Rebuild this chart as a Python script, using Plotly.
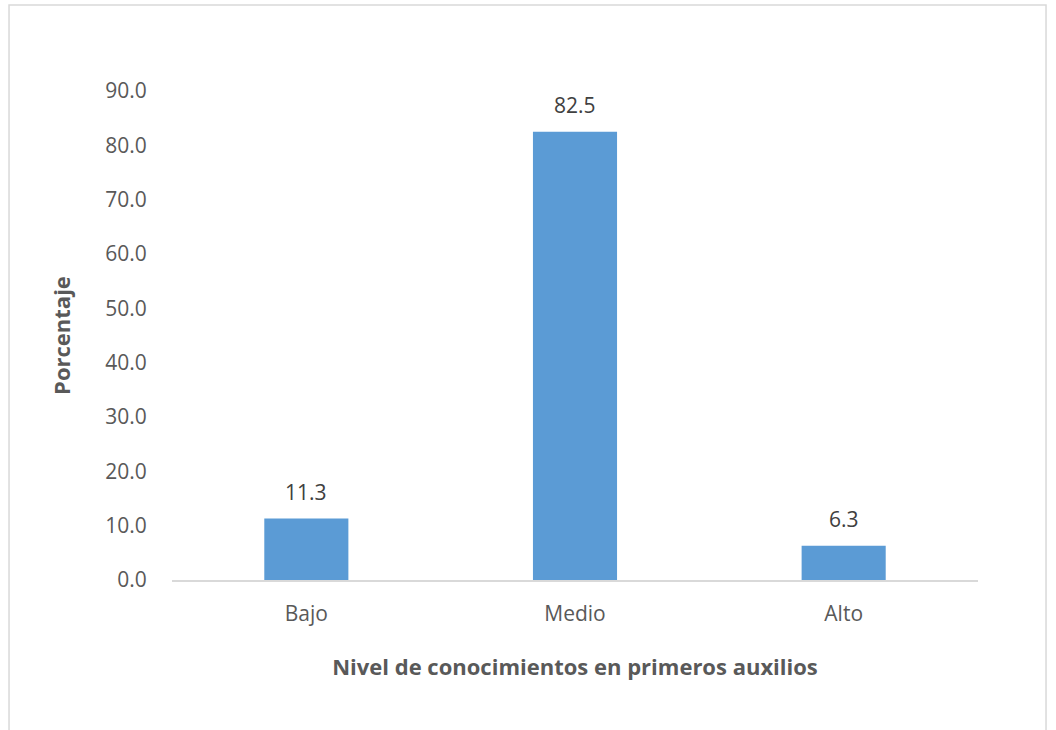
import plotly.graph_objects as go

categorias = ["Bajo", "Medio", "Alto"]
porcentajes = [11.3, 82.5, 6.3]
y_ticks = [0, 10, 20, 30, 40, 50, 60, 70, 80, 90]

FONT = "Open Sans"
GRIS = "#595959"

fig = go.Figure()
fig.add_trace(go.Bar(
    x=categorias,
    y=porcentajes,
    marker=dict(color="#5B9BD5", line=dict(width=0)),
    hoverinfo="skip",
))

# value labels above each bar
for c, v in zip(categorias, porcentajes):
    fig.add_annotation(
        x=c, y=v, text=f"{v:.1f}", showarrow=False,
        yanchor="bottom", yshift=11,
        font=dict(family=FONT, size=21, color="#404040"),
    )

# outer chart border
fig.add_shape(
    type="rect", xref="paper", yref="paper",
    x0=-0.2022, x1=1.0844, y0=-0.35, y1=1.1759,
    line=dict(color="#D9D9D9", width=1.5), fillcolor="rgba(0,0,0,0)",
    layer="below",
)

fig.update_layout(
    width=1056, height=730,
    margin=dict(l=172, r=78, t=91, b=150),
    paper_bgcolor="white", plot_bgcolor="white",
    bargap=0.687,
    showlegend=False,
    font=dict(family=FONT, color=GRIS),
    xaxis=dict(
        showline=True, linecolor="#D9D9D9", linewidth=1.5,
        showgrid=False, zeroline=False,
        tickfont=dict(family=FONT, size=21, color=GRIS),
        ticks="outside", ticklen=14, tickcolor="rgba(0,0,0,0)",
        title=dict(text="<b>Nivel de conocimientos en primeros auxilios</b>",
                   font=dict(family=FONT, size=22, color=GRIS), standoff=34),
    ),
    yaxis=dict(
        range=[0, 90], tickvals=y_ticks,
        ticktext=[f"{t:.1f}" for t in y_ticks],
        showline=False, showgrid=False, zeroline=False,
        tickfont=dict(family=FONT, size=21, color=GRIS),
        ticks="outside", ticklen=20, tickcolor="rgba(0,0,0,0)",
        title=dict(text="<b>Porcentaje</b>",
                   font=dict(family=FONT, size=22, color=GRIS), standoff=28),
    ),
)

fig.write_html("out.html")
